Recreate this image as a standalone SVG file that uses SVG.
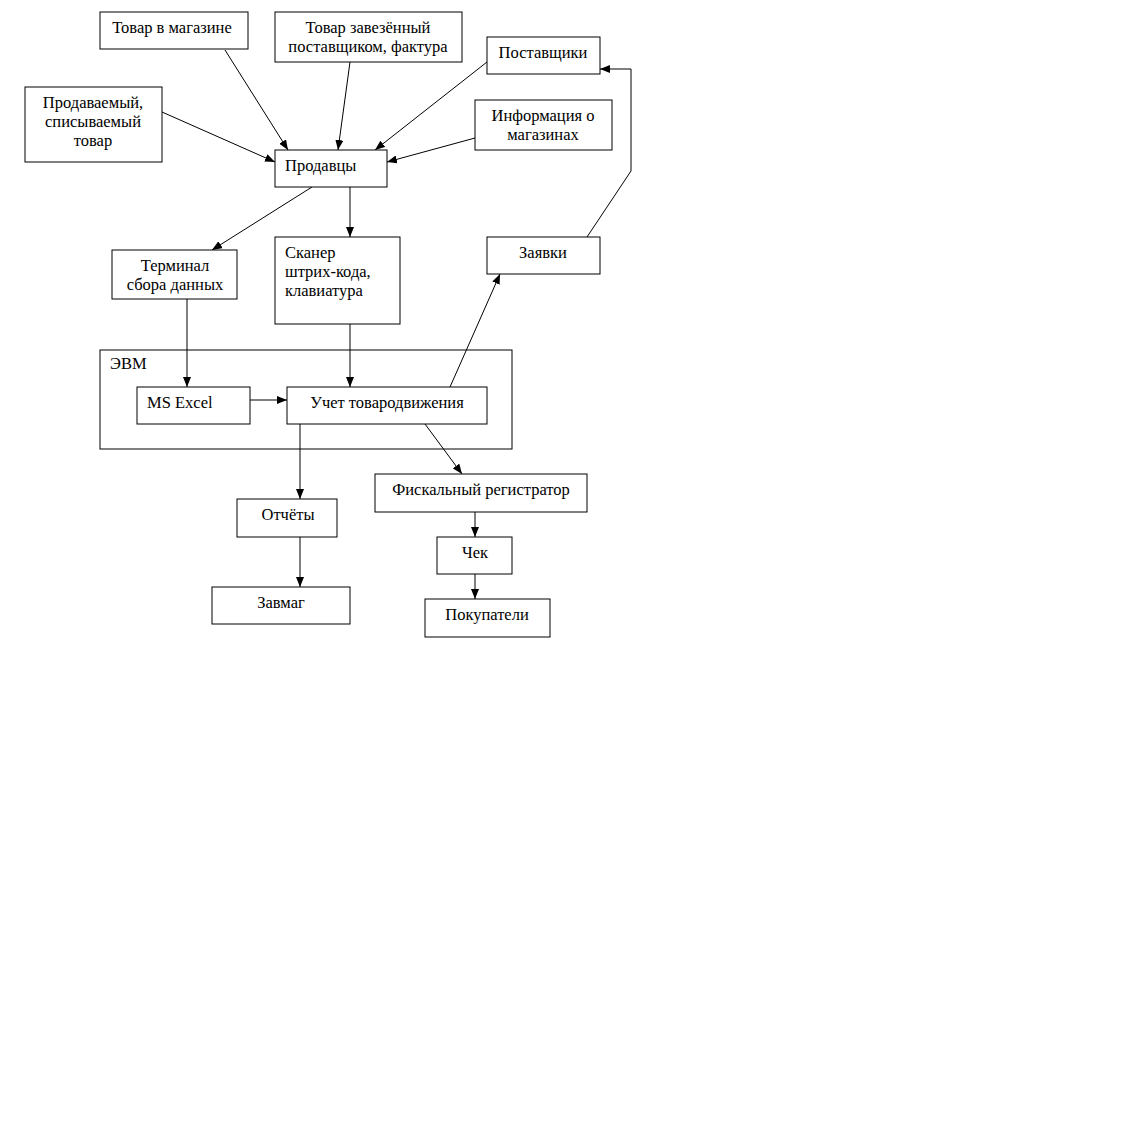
<svg xmlns="http://www.w3.org/2000/svg" width="1126" height="1126" viewBox="0 0 1126 1126">
<style>
rect{fill:#fff;stroke:#000;stroke-width:1}
text{font-family:"Liberation Serif","Times New Roman",serif;font-size:16.5px;fill:#000}
.c{text-anchor:middle}
#connectors line,#connectors polyline{stroke:#000;stroke-width:1;fill:none}
</style>
<defs>
<marker id="a" viewBox="0 0 10 8" refX="10" refY="4" markerWidth="10" markerHeight="8" markerUnits="userSpaceOnUse" orient="auto">
<path d="M0,0 L10,4 L0,8 Z" fill="#000"/>
</marker>
</defs>
<rect x="0" y="0" width="1126" height="1126" style="fill:#fff;stroke:none"/>
<g id="evm"><rect x="100" y="350" width="412" height="99"/><text x="110" y="369">ЭВМ</text></g>
<g id="connectors">
<line x1="225" y1="50" x2="288" y2="150" marker-end="url(#a)"/>
<line x1="350" y1="62" x2="338" y2="150" marker-end="url(#a)"/>
<line x1="487" y1="62" x2="375" y2="150" marker-end="url(#a)"/>
<line x1="162" y1="112" x2="275" y2="162" marker-end="url(#a)"/>
<line x1="475" y1="138" x2="387" y2="162" marker-end="url(#a)"/>
<line x1="312" y1="187" x2="212" y2="250" marker-end="url(#a)"/>
<line x1="350" y1="187" x2="350" y2="237" marker-end="url(#a)"/>
<polyline points="587,237 631,171 631,69 600,69" marker-end="url(#a)"/>
<line x1="187" y1="299" x2="187" y2="387" marker-end="url(#a)"/>
<line x1="350" y1="324" x2="350" y2="387" marker-end="url(#a)"/>
<line x1="250" y1="400" x2="287" y2="400" marker-end="url(#a)"/>
<line x1="450" y1="387" x2="500" y2="274" marker-end="url(#a)"/>
<line x1="300" y1="424" x2="300" y2="499" marker-end="url(#a)"/>
<line x1="425" y1="424" x2="462" y2="474" marker-end="url(#a)"/>
<line x1="300" y1="537" x2="300" y2="587" marker-end="url(#a)"/>
<line x1="475" y1="512" x2="475" y2="537" marker-end="url(#a)"/>
<line x1="475" y1="574" x2="475" y2="599" marker-end="url(#a)"/>
</g>
<g id="tovar-magazin"><rect x="100" y="12" width="148" height="37"/><text class="c" x="172" y="33">Товар в магазине</text></g>
<g id="tovar-zavez"><rect x="275" y="12" width="187" height="50"/><text class="c" x="368" y="33">Товар завезённый</text><text class="c" x="368" y="52">поставщиком, фактура</text></g>
<g id="postavshiki"><rect x="487" y="37" width="113" height="37"/><text class="c" x="543" y="58">Поставщики</text></g>
<g id="prodavaemy"><rect x="25" y="87" width="137" height="75"/><text class="c" x="93" y="108">Продаваемый,</text><text class="c" x="93" y="127">списываемый</text><text class="c" x="93" y="146">товар</text></g>
<g id="info"><rect x="475" y="100" width="137" height="50"/><text class="c" x="543" y="121">Информация о</text><text class="c" x="543" y="140">магазинах</text></g>
<g id="prodavcy"><rect x="275" y="150" width="112" height="37"/><text x="285" y="171">Продавцы</text></g>
<g id="terminal"><rect x="112" y="250" width="125" height="49"/><text class="c" x="175" y="271">Терминал</text><text class="c" x="175" y="290">сбора данных</text></g>
<g id="scanner"><rect x="275" y="237" width="125" height="87"/><text x="285" y="258">Сканер</text><text x="285" y="277">штрих-кода,</text><text x="285" y="296">клавиатура</text></g>
<g id="zayavki"><rect x="487" y="237" width="113" height="37"/><text class="c" x="543" y="258">Заявки</text></g>
<g id="excel"><rect x="137" y="387" width="113" height="37"/><text x="147" y="408">MS Excel</text></g>
<g id="uchet"><rect x="287" y="387" width="200" height="37"/><text class="c" x="387" y="408">Учет товародвижения</text></g>
<g id="fiskal"><rect x="375" y="474" width="212" height="38"/><text class="c" x="481" y="495">Фискальный регистратор</text></g>
<g id="otchety"><rect x="237" y="499" width="100" height="38"/><text class="c" x="288" y="520">Отчёты</text></g>
<g id="chek"><rect x="437" y="537" width="75" height="37"/><text class="c" x="475" y="558">Чек</text></g>
<g id="zavmag"><rect x="212" y="587" width="138" height="37"/><text class="c" x="281" y="608">Завмаг</text></g>
<g id="pokupateli"><rect x="425" y="599" width="125" height="38"/><text class="c" x="487" y="620">Покупатели</text></g>
</svg>
